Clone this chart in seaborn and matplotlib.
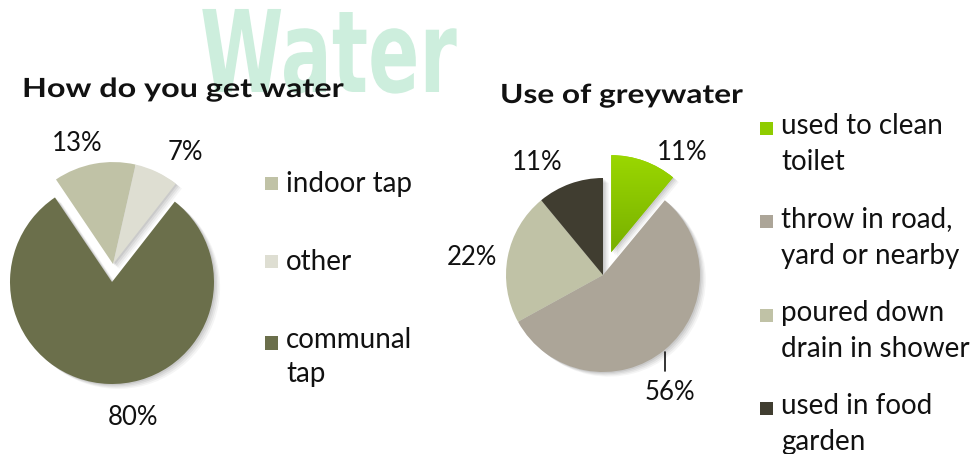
import numpy as np
import matplotlib
matplotlib.use("Agg")
import matplotlib.pyplot as plt
import seaborn as sns
from matplotlib.colors import LinearSegmentedColormap
from matplotlib.legend_handler import HandlerPatch
from matplotlib.patches import Rectangle
from matplotlib.patheffects import AbstractPathEffect
from matplotlib.transforms import Affine2D

# ---------------- data ----------------
water_labels = ["indoor tap", "other", "communal\ntap"]
water_values = [13, 7, 80]
water_colors = ["#c0c2a6", "#deded2", "#6b6f4b"]
water_pct = ["13%", "7%", "80%"]

grey_labels = ["used to clean\ntoilet", "throw in road,\nyard or nearby",
               "poured down\ndrain in shower", "used in food\ngarden"]
grey_values = [11, 56, 22, 11]
grey_colors = ["#8fcc00", "#aca598", "#c0c2a6", "#403d30"]
grey_pct = ["11%", "56%", "22%", "11%"]

# ---------------- style ----------------
sns.set_theme(style="white")
plt.rcParams['font.family'] = ['Lato', 'DejaVu Sans']
TXT = "#111111"

W, H = 977, 454
fig = plt.figure(figsize=(W / 100, H / 100), dpi=100)
renderer = fig.canvas.get_renderer()


class HStretch(AbstractPathEffect):
    """Draw text horizontally stretched around its line origin."""
    def __init__(self, sx):
        super().__init__()
        self.sx = sx

    def draw_path(self, renderer, gc, tpath, affine, rgbFace=None):
        x0 = affine.transform((0, 0))[0]
        aff = affine + Affine2D().translate(-x0, 0).scale(self.sx, 1).translate(x0, 0)
        renderer.draw_path(gc, tpath, aff, rgbFace)


def fit_width(t, target_px):
    w = t.get_window_extent(renderer).width
    t.set_path_effects([HStretch(target_px / w)])


def fx(x):
    return x / W


def fy(y):
    return 1 - y / H


# watermark
wm = fig.text(fx(200), fy(92), "Water", fontsize=82, weight='bold',
              family=['DejaVu Sans'],
              color='#cdeedd', ha='left', va='baseline', zorder=0)
fit_width(wm, 257)

# titles
t1 = fig.text(fx(22), fy(97), "How do you get water", fontsize=19, weight='bold',
              color=TXT, ha='left', va='baseline')
fit_width(t1, 321)
t2 = fig.text(fx(500), fy(103), "Use of greywater", fontsize=19, weight='bold',
              color=TXT, ha='left', va='baseline')
fit_width(t2, 242)


def make_ax(cx, cy, r, half=160):
    ax = fig.add_axes([(cx - half) / W, (H - cy - half) / H, 2 * half / W, 2 * half / H])
    return ax, half / r


SHADOW = [(0.015, 0.07), (0.03, 0.06), (0.045, 0.05), (0.06, 0.04)]

# ---------------- left pie ----------------
ax1, lim1 = make_ax(112, 282, 102)
start1 = 124
lift = 0.176
for off, a in SHADOW:
    ws, _ = ax1.pie(water_values, colors=["#000000"] * 3, startangle=start1, counterclock=False,
                    center=(off, -off * 0.8), wedgeprops=dict(linewidth=0, alpha=a))
    ws[0].set_visible(False); ws[1].set_visible(False)
    for w in ws:
        w.set_zorder(0.5)
    ws, _ = ax1.pie(water_values, colors=["#000000"] * 3, startangle=start1, counterclock=False,
                    center=(0.01 + off, lift - off * 0.8), wedgeprops=dict(linewidth=0, alpha=a))
    ws[2].set_visible(False)
    for w in ws:
        w.set_zorder(0.5)

big, _ = ax1.pie(water_values, colors=water_colors, startangle=start1, counterclock=False,
                 wedgeprops=dict(linewidth=0))
big[0].set_visible(False); big[1].set_visible(False)
small, _ = ax1.pie(water_values, colors=water_colors, startangle=start1, counterclock=False,
                   center=(0.01, lift), wedgeprops=dict(linewidth=0))
small[2].set_visible(False)
for w in list(big) + list(small):
    w.set_zorder(2)

pos1 = [(-0.34, 1.36), (0.72, 1.27), (0.21, -1.33)]
for (x, y), t in zip(pos1, water_pct):
    ax1.text(x, y, t, ha='center', va='center', fontsize=18.5, color=TXT, zorder=5)
ax1.set_xlim(-lim1, lim1); ax1.set_ylim(-lim1, lim1)
ax1.set_aspect('equal'); ax1.axis('off')

# ---------------- right pie ----------------
ax2, lim2 = make_ax(603, 275, 97)
explode2 = [0.25, 0, 0, 0]
for off, a in SHADOW:
    ws, _ = ax2.pie(grey_values, colors=["#000000"] * 4, startangle=90, counterclock=False,
                    explode=explode2, center=(off, -off * 0.8),
                    wedgeprops=dict(linewidth=0, alpha=a))
    for w in ws:
        w.set_zorder(0.5)
wg, _ = ax2.pie(grey_values, colors=grey_colors, startangle=90, counterclock=False,
                explode=explode2, wedgeprops=dict(linewidth=0))
for w in wg:
    w.set_zorder(2)
# gradient on the exploded green slice
cmap = LinearSegmentedColormap.from_list("g", ["#6fa600", "#a4e200"])
grad = np.linspace(0, 1, 256).reshape(-1, 1)
im = ax2.imshow(grad, cmap=cmap, origin='lower', aspect='auto',
                extent=(-0.1, 1.3, 0.0, 1.5), zorder=3)
im.set_clip_path(wg[0])

pos2 = [(0.82, 1.26), (0.69, -1.21), (-1.35, 0.18), (-0.68, 1.16)]
for (x, y), t in zip(pos2, grey_pct):
    ax2.text(x, y, t, ha='center', va='center', fontsize=18.5, color=TXT, zorder=5)
# leader line for the largest slice
w56 = wg[1]
mid = np.deg2rad((w56.theta1 + w56.theta2) / 2)
ex, ey = np.cos(mid), np.sin(mid)
ax2.plot([ex, ex], [ey - 0.02, ey - 0.22], color=TXT, lw=1.2, zorder=5)
ax2.set_xlim(-lim2, lim2); ax2.set_ylim(-lim2, lim2)
ax2.set_aspect('equal'); ax2.axis('off')

# ---------------- legends ----------------
FS = 20


def top_square(nlines, line_px):
    shift = (nlines - 1) * line_px * 0.72 / 2

    def f(legend, orig_handle, xdescent, ydescent, width, height, fontsize):
        return Rectangle((-xdescent, -ydescent + shift), width, width)
    return HandlerPatch(patch_func=f)


def legend_at(handles, labels, x, y, spacing, line_px):
    leg = fig.legend(handles, labels, loc='upper left', bbox_to_anchor=(fx(x), fy(y)),
                     frameon=False, fontsize=FS, handlelength=0.47, handleheight=0.47,
                     handletextpad=0.29, labelspacing=spacing, borderpad=0, borderaxespad=0,
                     handler_map={h: top_square(lab.count("\n") + 1, line_px)
                                  for h, lab in zip(handles, labels)})
    for t in leg.get_texts():
        t.set_linespacing(1.49 * line_px / 35)
        t.set_color(TXT)
    return leg


legend_at([small[0], small[1], big[2]], water_labels, 265, 171, 1.88, 32)
legend_at(list(wg), grey_labels, 760, 113, 1.12, 35)

fig.savefig("out.png", dpi=100)
